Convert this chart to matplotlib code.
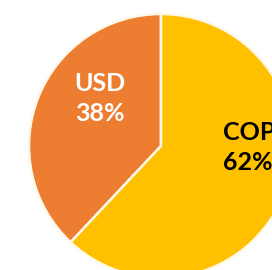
import matplotlib.pyplot as plt

labels = ["USD", "COP"]
shares = [38, 62]
colors = ["#ED7D31", "#FFC000"]
text_colors = ["white", "black"]

fig = plt.figure(figsize=(2.72, 2.70), dpi=100)
ax = fig.add_axes([29 / 272, -8 / 270, 264 / 272, 264 / 270])

ax.pie(shares, colors=colors, startangle=90, counterclock=True,
       wedgeprops=dict(edgecolor="#FFF8E8", linewidth=1.8))
ax.set_xlim(-1, 1)
ax.set_ylim(-1, 1)
ax.axis("off")

# label spots (data coords, radius 1); COP is cut by the right edge like the original
spots = [(-0.46, 0.36, "center"), (0.47, -0.01, "left")]
for lab, val, tc, (x, y, ha) in zip(labels, shares, text_colors, spots):
    ax.text(x, y, f"{lab}\n{val}%", color=tc, ha=ha, va="center",
            fontsize=18, fontweight="bold", family=["Lato", "DejaVu Sans"],
            linespacing=1.4)

fig.savefig("out.png", dpi=100)
